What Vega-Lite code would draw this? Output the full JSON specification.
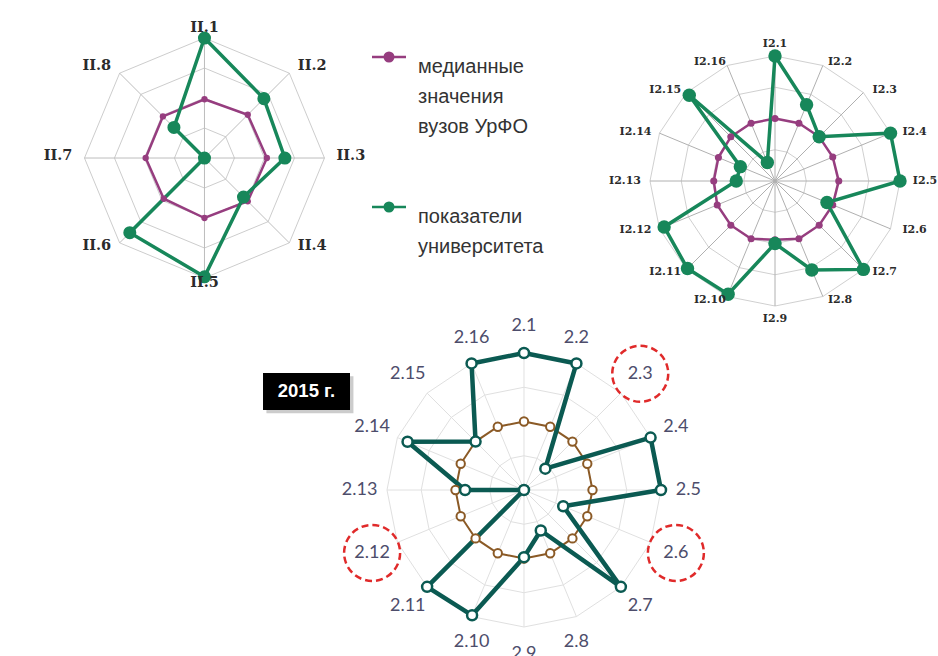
{
"$schema":"https://vega.github.io/schema/vega-lite/v6.json",
"background":"white",
"padding":0,
"spacing":0,
"bounds":"flush",
"columns":2,
"config":{"view":{"stroke":null}},
"resolve":{"scale":{"x":"independent","y":"independent"}},
"datasets":{
"d13":[
{"ind":"II.1","k":0,"med":0.49,"uni":1.0},
{"ind":"II.2","k":1,"med":0.51,"uni":0.70},
{"ind":"II.3","k":2,"med":0.52,"uni":0.67},
{"ind":"II.4","k":3,"med":0.51,"uni":0.46},
{"ind":"II.5","k":4,"med":0.50,"uni":0.99},
{"ind":"II.6","k":5,"med":0.48,"uni":0.88},
{"ind":"II.7","k":6,"med":0.49,"uni":0.0},
{"ind":"II.8","k":7,"med":0.49,"uni":0.36}],
"d14":[
{"ind":"I2.1","k":0,"med":0.50,"uni":1.00},
{"ind":"I2.2","k":1,"med":0.50,"uni":0.66},
{"ind":"I2.3","k":2,"med":0.50,"uni":0.50},
{"ind":"I2.4","k":3,"med":0.50,"uni":1.00},
{"ind":"I2.5","k":4,"med":0.51,"uni":1.00},
{"ind":"I2.6","k":5,"med":0.50,"uni":0.45},
{"ind":"I2.7","k":6,"med":0.50,"uni":1.00},
{"ind":"I2.8","k":7,"med":0.50,"uni":0.77},
{"ind":"I2.9","k":8,"med":0.47,"uni":0.50},
{"ind":"I2.10","k":9,"med":0.50,"uni":0.98},
{"ind":"I2.11","k":10,"med":0.50,"uni":0.99},
{"ind":"I2.12","k":11,"med":0.50,"uni":0.96},
{"ind":"I2.13","k":12,"med":0.49,"uni":0.31},
{"ind":"I2.14","k":13,"med":0.49,"uni":0.30},
{"ind":"I2.15","k":14,"med":0.50,"uni":0.97},
{"ind":"I2.16","k":15,"med":0.50,"uni":0.16}],
"d15":[
{"ind":"2.1","k":0,"med":0.50,"uni":1.00,"flag":false},
{"ind":"2.2","k":1,"med":0.50,"uni":1.00,"flag":false},
{"ind":"2.3","k":2,"med":0.50,"uni":0.22,"flag":true},
{"ind":"2.4","k":3,"med":0.50,"uni":1.00,"flag":false},
{"ind":"2.5","k":4,"med":0.50,"uni":1.00,"flag":false},
{"ind":"2.6","k":5,"med":0.50,"uni":0.31,"flag":true},
{"ind":"2.7","k":6,"med":0.50,"uni":1.00,"flag":false},
{"ind":"2.8","k":7,"med":0.50,"uni":0.32,"flag":false},
{"ind":"2.9","k":8,"med":0.50,"uni":0.49,"flag":false},
{"ind":"2.10","k":9,"med":0.50,"uni":0.99,"flag":false},
{"ind":"2.11","k":10,"med":0.50,"uni":1.00,"flag":false},
{"ind":"2.12","k":11,"med":0.50,"uni":0.00,"flag":true},
{"ind":"2.13","k":12,"med":0.50,"uni":0.43,"flag":false},
{"ind":"2.14","k":13,"med":0.50,"uni":0.92,"flag":false},
{"ind":"2.15","k":14,"med":0.50,"uni":0.50,"flag":false},
{"ind":"2.16","k":15,"med":0.50,"uni":1.00,"flag":false}],
"g8":[
{"r":0.25,"k":0},{"r":0.25,"k":1},{"r":0.25,"k":2},{"r":0.25,"k":3},{"r":0.25,"k":4},{"r":0.25,"k":5},{"r":0.25,"k":6},{"r":0.25,"k":7},
{"r":0.5,"k":0},{"r":0.5,"k":1},{"r":0.5,"k":2},{"r":0.5,"k":3},{"r":0.5,"k":4},{"r":0.5,"k":5},{"r":0.5,"k":6},{"r":0.5,"k":7},
{"r":0.75,"k":0},{"r":0.75,"k":1},{"r":0.75,"k":2},{"r":0.75,"k":3},{"r":0.75,"k":4},{"r":0.75,"k":5},{"r":0.75,"k":6},{"r":0.75,"k":7},
{"r":1,"k":0},{"r":1,"k":1},{"r":1,"k":2},{"r":1,"k":3},{"r":1,"k":4},{"r":1,"k":5},{"r":1,"k":6},{"r":1,"k":7}],
"g16":[
{"r":0.25,"k":0},{"r":0.25,"k":1},{"r":0.25,"k":2},{"r":0.25,"k":3},{"r":0.25,"k":4},{"r":0.25,"k":5},{"r":0.25,"k":6},{"r":0.25,"k":7},{"r":0.25,"k":8},{"r":0.25,"k":9},{"r":0.25,"k":10},{"r":0.25,"k":11},{"r":0.25,"k":12},{"r":0.25,"k":13},{"r":0.25,"k":14},{"r":0.25,"k":15},
{"r":0.5,"k":0},{"r":0.5,"k":1},{"r":0.5,"k":2},{"r":0.5,"k":3},{"r":0.5,"k":4},{"r":0.5,"k":5},{"r":0.5,"k":6},{"r":0.5,"k":7},{"r":0.5,"k":8},{"r":0.5,"k":9},{"r":0.5,"k":10},{"r":0.5,"k":11},{"r":0.5,"k":12},{"r":0.5,"k":13},{"r":0.5,"k":14},{"r":0.5,"k":15},
{"r":0.75,"k":0},{"r":0.75,"k":1},{"r":0.75,"k":2},{"r":0.75,"k":3},{"r":0.75,"k":4},{"r":0.75,"k":5},{"r":0.75,"k":6},{"r":0.75,"k":7},{"r":0.75,"k":8},{"r":0.75,"k":9},{"r":0.75,"k":10},{"r":0.75,"k":11},{"r":0.75,"k":12},{"r":0.75,"k":13},{"r":0.75,"k":14},{"r":0.75,"k":15},
{"r":1,"k":0},{"r":1,"k":1},{"r":1,"k":2},{"r":1,"k":3},{"r":1,"k":4},{"r":1,"k":5},{"r":1,"k":6},{"r":1,"k":7},{"r":1,"k":8},{"r":1,"k":9},{"r":1,"k":10},{"r":1,"k":11},{"r":1,"k":12},{"r":1,"k":13},{"r":1,"k":14},{"r":1,"k":15}]
},
"concat":[
{"width":330,"height":320,
"data":{"name":"d13"},
"encoding":{
"x":{"field":"x","type":"quantitative","scale":{"domain":[-1.704,1.046],"nice":false,"zero":false},"axis":null},
"y":{"field":"y","type":"quantitative","scale":{"domain":[-1.35,1.317],"nice":false,"zero":false},"axis":null}},
"layer":[
{"data":{"name":"g8"},
"transform":[{"calculate":"datum.k*PI/4","as":"a"},{"calculate":"datum.r*sin(datum.a)","as":"x"},{"calculate":"datum.r*cos(datum.a)","as":"y"}],
"mark":{"type":"line","interpolate":"linear-closed","color":"#cdcdcd","strokeWidth":1},
"encoding":{"detail":{"field":"r"},"order":{"field":"k"}}},
{"transform":[{"calculate":"datum.k*PI/4","as":"a"},{"calculate":"sin(datum.a)","as":"x"},{"calculate":"cos(datum.a)","as":"y"}],
"mark":{"type":"rule","color":"#bdbdbd","strokeWidth":1},
"encoding":{"x2":{"datum":0},"y2":{"datum":0}}},
{"transform":[{"fold":["med","uni"],"as":["series","v"]},{"calculate":"datum.k*PI/4","as":"a"},{"calculate":"datum.v*sin(datum.a)","as":"x"},{"calculate":"datum.v*cos(datum.a)","as":"y"}],
"mark":{"type":"line","interpolate":"linear-closed"},
"encoding":{
"color":{"field":"series","type":"nominal","scale":{"domain":["med","uni"],"range":["#963d7f","#17875a"]},
"legend":{"title":null,"orient":"none","legendX":379,"legendY":47,"labelExpr":"datum.value == 'med' ? ['медианные','значения','вузов УрФО'] : ['показатели','университета']","labelFont":"Liberation Sans","labelFontSize":20,"labelColor":"#333333","labelOffset":19,"labelLimit":300,"symbolType":"M-3.4,0H3.4M-0.85,0A0.85,0.85,0,1,0,0.85,0A0.85,0.85,0,1,0,-0.85,0Z","symbolSize":100,"symbolStrokeWidth":2.5,"symbolOpacity":1,"rowPadding":60,"encode":{"symbols":{"update":{"fill":{"scale":"color","field":"value"},"stroke":{"scale":"color","field":"value"},"strokeOpacity":{"value":1},"strokeWidth":{"value":2.5},"size":{"value":100}}},"labels":{"update":{"lineHeight":{"value":30},"dy":{"value":10}}}}}},
"strokeWidth":{"condition":{"test":"datum.series == 'uni'","value":3.5},"value":2.5},
"order":{"field":"k"}}},
{"transform":[{"fold":["med","uni"],"as":["series","v"]},{"calculate":"datum.k*PI/4","as":"a"},{"calculate":"datum.v*sin(datum.a)","as":"x"},{"calculate":"datum.v*cos(datum.a)","as":"y"}],
"mark":{"type":"point","filled":true,"opacity":1},
"encoding":{
"color":{"field":"series","type":"nominal","scale":{"domain":["med","uni"],"range":["#963d7f","#17875a"]},
"legend":{"title":null,"orient":"none","legendX":379,"legendY":47,"labelExpr":"datum.value == 'med' ? ['медианные','значения','вузов УрФО'] : ['показатели','университета']","labelFont":"Liberation Sans","labelFontSize":20,"labelColor":"#333333","labelOffset":19,"labelLimit":300,"symbolType":"M-3.4,0H3.4M-0.85,0A0.85,0.85,0,1,0,0.85,0A0.85,0.85,0,1,0,-0.85,0Z","symbolSize":100,"symbolStrokeWidth":2.5,"symbolOpacity":1,"rowPadding":60,"encode":{"symbols":{"update":{"fill":{"scale":"color","field":"value"},"stroke":{"scale":"color","field":"value"},"strokeOpacity":{"value":1},"strokeWidth":{"value":2.5},"size":{"value":100}}},"labels":{"update":{"lineHeight":{"value":30},"dy":{"value":10}}}}}},
"size":{"condition":{"test":"datum.series == 'uni'","value":170},"value":40}}},
{"transform":[{"calculate":"datum.k*PI/4","as":"a"},{"calculate":"1.1*sin(datum.a)+0.12*(sin(datum.a)>0.01?1:(sin(datum.a)<-0.01?-1:0))","as":"x"},{"calculate":"1.06*cos(datum.a)+0.02","as":"y"}],
"mark":{"type":"text","font":"DejaVu Serif","fontWeight":"bold","fontSize":14.5,"color":"#2b2b2b","align":"center","baseline":"middle"},
"encoding":{"text":{"field":"ind"}}},
{"data":{"values":[{"t":"2013 г."}]},
"mark":{"type":"rect","fill":"white","stroke":"#444444","strokeDash":[3,2],"strokeWidth":1.2},
"encoding":{"x":{"datum":-1.604},"x2":{"datum":-0.9125},"y":{"datum":1.208},"y2":{"datum":0.875}}},
{"data":{"values":[{"t":"2013 г."}]},
"mark":{"type":"text","font":"Liberation Sans","fontSize":19,"color":"#222222","align":"center","baseline":"middle"},
"encoding":{"x":{"datum":-1.258},"y":{"datum":1.042},"text":{"field":"t"}}}
]},
{"width":608,"height":320,
"data":{"name":"d14"},
"encoding":{
"x":{"field":"x","type":"quantitative","scale":{"domain":[-3.56,1.304],"nice":false,"zero":false},"axis":null},
"y":{"field":"y","type":"quantitative","scale":{"domain":[-1.112,1.448],"nice":false,"zero":false},"axis":null}},
"layer":[
{"data":{"name":"g16"},
"transform":[{"calculate":"datum.k*PI/8","as":"a"},{"calculate":"datum.r*sin(datum.a)","as":"x"},{"calculate":"datum.r*cos(datum.a)","as":"y"}],
"mark":{"type":"line","interpolate":"linear-closed","color":"#d0d0d0","strokeWidth":1},
"encoding":{"detail":{"field":"r"},"order":{"field":"k"}}},
{"transform":[{"calculate":"datum.k*PI/8","as":"a"},{"calculate":"sin(datum.a)","as":"x"},{"calculate":"cos(datum.a)","as":"y"}],
"mark":{"type":"rule","color":"#b0b0b0","strokeWidth":1},
"encoding":{"x2":{"datum":0},"y2":{"datum":0}}},
{"transform":[{"fold":["med","uni"],"as":["series","v"]},{"calculate":"datum.k*PI/8","as":"a"},{"calculate":"datum.v*sin(datum.a)","as":"x"},{"calculate":"datum.v*cos(datum.a)","as":"y"}],
"mark":{"type":"line","interpolate":"linear-closed"},
"encoding":{
"color":{"field":"series","type":"nominal","scale":{"domain":["med","uni"],"range":["#963d7f","#17875a"]},
"legend":{"title":null,"orient":"none","legendX":379,"legendY":47,"labelExpr":"datum.value == 'med' ? ['медианные','значения','вузов УрФО'] : ['показатели','университета']","labelFont":"Liberation Sans","labelFontSize":20,"labelColor":"#333333","labelOffset":19,"labelLimit":300,"symbolType":"M-3.4,0H3.4M-0.85,0A0.85,0.85,0,1,0,0.85,0A0.85,0.85,0,1,0,-0.85,0Z","symbolSize":100,"symbolStrokeWidth":2.5,"symbolOpacity":1,"rowPadding":60,"encode":{"symbols":{"update":{"fill":{"scale":"color","field":"value"},"stroke":{"scale":"color","field":"value"},"strokeOpacity":{"value":1},"strokeWidth":{"value":2.5},"size":{"value":100}}},"labels":{"update":{"lineHeight":{"value":30},"dy":{"value":10}}}}}},
"strokeWidth":{"condition":{"test":"datum.series == 'uni'","value":3.5},"value":2.5},
"order":{"field":"k"}}},
{"transform":[{"fold":["med","uni"],"as":["series","v"]},{"calculate":"datum.k*PI/8","as":"a"},{"calculate":"datum.v*sin(datum.a)","as":"x"},{"calculate":"datum.v*cos(datum.a)","as":"y"}],
"mark":{"type":"point","filled":true,"opacity":1},
"encoding":{
"color":{"field":"series","type":"nominal","scale":{"domain":["med","uni"],"range":["#963d7f","#17875a"]},
"legend":{"title":null,"orient":"none","legendX":379,"legendY":47,"labelExpr":"datum.value == 'med' ? ['медианные','значения','вузов УрФО'] : ['показатели','университета']","labelFont":"Liberation Sans","labelFontSize":20,"labelColor":"#333333","labelOffset":19,"labelLimit":300,"symbolType":"M-3.4,0H3.4M-0.85,0A0.85,0.85,0,1,0,0.85,0A0.85,0.85,0,1,0,-0.85,0Z","symbolSize":100,"symbolStrokeWidth":2.5,"symbolOpacity":1,"rowPadding":60,"encode":{"symbols":{"update":{"fill":{"scale":"color","field":"value"},"stroke":{"scale":"color","field":"value"},"strokeOpacity":{"value":1},"strokeWidth":{"value":2.5},"size":{"value":100}}},"labels":{"update":{"lineHeight":{"value":30},"dy":{"value":10}}}}}},
"size":{"condition":{"test":"datum.series == 'uni'","value":180},"value":50}}},
{"transform":[{"calculate":"datum.k*PI/8","as":"a"},{"calculate":"1.1*sin(datum.a)+0.1*(sin(datum.a)>0.01?1:(sin(datum.a)<-0.01?-1:0))","as":"x"},{"calculate":"(abs(cos(datum.a))>0.99?1.1:1.03)*cos(datum.a)","as":"y"}],
"mark":{"type":"text","font":"DejaVu Serif","fontWeight":"bold","fontSize":11,"color":"#2b2b2b","align":"center","baseline":"middle"},
"encoding":{"text":{"field":"ind"}}},
{"data":{"values":[{"t":"2014 г."}]},
"mark":{"type":"rect","fill":"white","stroke":"#444444","strokeDash":[3,2],"strokeWidth":1.2},
"encoding":{"x":{"datum":-1.488},"x2":{"datum":-0.824},"y":{"datum":1.288},"y2":{"datum":0.968}}},
{"data":{"values":[{"t":"2014 г."}]},
"mark":{"type":"text","font":"Liberation Sans","fontSize":19,"color":"#222222","align":"center","baseline":"middle"},
"encoding":{"x":{"datum":-1.152},"y":{"datum":1.128},"text":{"field":"t"}}}
]},
{"width":330,"height":336,
"data":{"values":[{"t":"2015 г."}]},
"encoding":{
"x":{"datum":-1.905,"type":"quantitative","scale":{"domain":[-3.8248,-1.416],"nice":false,"zero":false},"axis":null},
"y":{"datum":0.854,"type":"quantitative","scale":{"domain":[-1.2117,1.2409],"nice":false,"zero":false},"axis":null}},
"layer":[
{"mark":{"type":"rect","fill":"#9a9a9a","opacity":0.5},
"encoding":{"x":{"datum":-1.88},"x2":{"datum":-1.245},"y":{"datum":0.83},"y2":{"datum":0.56}}},
{"mark":{"type":"rect","fill":"black"},
"encoding":{"x2":{"datum":-1.270},"y2":{"datum":0.584}}},
{"mark":{"type":"text","font":"Liberation Sans","fontWeight":"bold","fontSize":18.5,"color":"white","align":"center","baseline":"middle"},
"encoding":{"x":{"datum":-1.588},"y":{"datum":0.719},"text":{"field":"t"}}}
]},
{"width":608,"height":336,
"data":{"name":"d15"},
"encoding":{
"x":{"field":"x","type":"quantitative","scale":{"domain":[-1.416,3.0219],"nice":false,"zero":false},"axis":null},
"y":{"field":"y","type":"quantitative","scale":{"domain":[-1.2117,1.2409],"nice":false,"zero":false},"axis":null}},
"layer":[
{"data":{"name":"g16"},
"transform":[{"calculate":"datum.k*PI/8","as":"a"},{"calculate":"datum.r*sin(datum.a)","as":"x"},{"calculate":"datum.r*cos(datum.a)","as":"y"}],
"mark":{"type":"line","interpolate":"linear-closed","color":"#e0e0e0","strokeWidth":1},
"encoding":{"detail":{"field":"r"},"order":{"field":"k"}}},
{"transform":[{"calculate":"datum.k*PI/8","as":"a"},{"calculate":"sin(datum.a)","as":"x"},{"calculate":"cos(datum.a)","as":"y"}],
"mark":{"type":"rule","color":"#e0e0e0","strokeWidth":1},
"encoding":{"x2":{"datum":0},"y2":{"datum":0}}},
{"transform":[{"calculate":"datum.k*PI/8","as":"a"},{"calculate":"datum.med*sin(datum.a)","as":"x"},{"calculate":"datum.med*cos(datum.a)","as":"y"}],
"mark":{"type":"line","interpolate":"linear-closed","color":"#8b5a26","strokeWidth":2},
"encoding":{"order":{"field":"k"}}},
{"transform":[{"calculate":"datum.k*PI/8","as":"a"},{"calculate":"datum.uni*sin(datum.a)","as":"x"},{"calculate":"datum.uni*cos(datum.a)","as":"y"}],
"mark":{"type":"line","interpolate":"linear-closed","color":"#0b5a52","strokeWidth":4.5,"strokeJoin":"round"},
"encoding":{"order":{"field":"k"}}},
{"transform":[{"calculate":"datum.k*PI/8","as":"a"},{"calculate":"datum.med*sin(datum.a)","as":"x"},{"calculate":"datum.med*cos(datum.a)","as":"y"}],
"mark":{"type":"point","filled":true,"fill":"white","stroke":"#8b5a26","strokeWidth":2,"size":70,"opacity":1},
"encoding":{}},
{"transform":[{"calculate":"datum.k*PI/8","as":"a"},{"calculate":"datum.uni*sin(datum.a)","as":"x"},{"calculate":"datum.uni*cos(datum.a)","as":"y"}],
"mark":{"type":"point","filled":true,"fill":"white","stroke":"#0b5a52","strokeWidth":2.5,"size":100,"opacity":1},
"encoding":{}},
{"transform":[{"calculate":"datum.k*PI/8","as":"a"},{"calculate":"(abs(cos(datum.a))>0.9?1.0:1.2)*sin(datum.a)","as":"x"},{"calculate":"1.2*cos(datum.a)","as":"y"}],
"mark":{"type":"text","font":"Lato","fontSize":18,"color":"#4d4d6b","align":"center","baseline":"middle"},
"encoding":{"text":{"field":"ind"}}},
{"transform":[{"filter":"datum.flag"},{"calculate":"datum.k*PI/8","as":"a"},{"calculate":"1.2*sin(datum.a)","as":"x"},{"calculate":"1.2*cos(datum.a)","as":"y"}],
"mark":{"type":"point","shape":"circle","filled":false,"stroke":"#e02a2a","strokeWidth":2.5,"strokeDash":[7,4],"size":3136,"opacity":1},
"encoding":{}},
{"data":{"values":[{"t":"1"}]},
"mark":{"type":"text","font":"Liberation Sans","fontSize":17,"color":"#333333","align":"center","baseline":"middle"},
"encoding":{"x":{"datum":2.964},"y":{"datum":-1.109},"text":{"field":"t"}}}
]}
]
}
